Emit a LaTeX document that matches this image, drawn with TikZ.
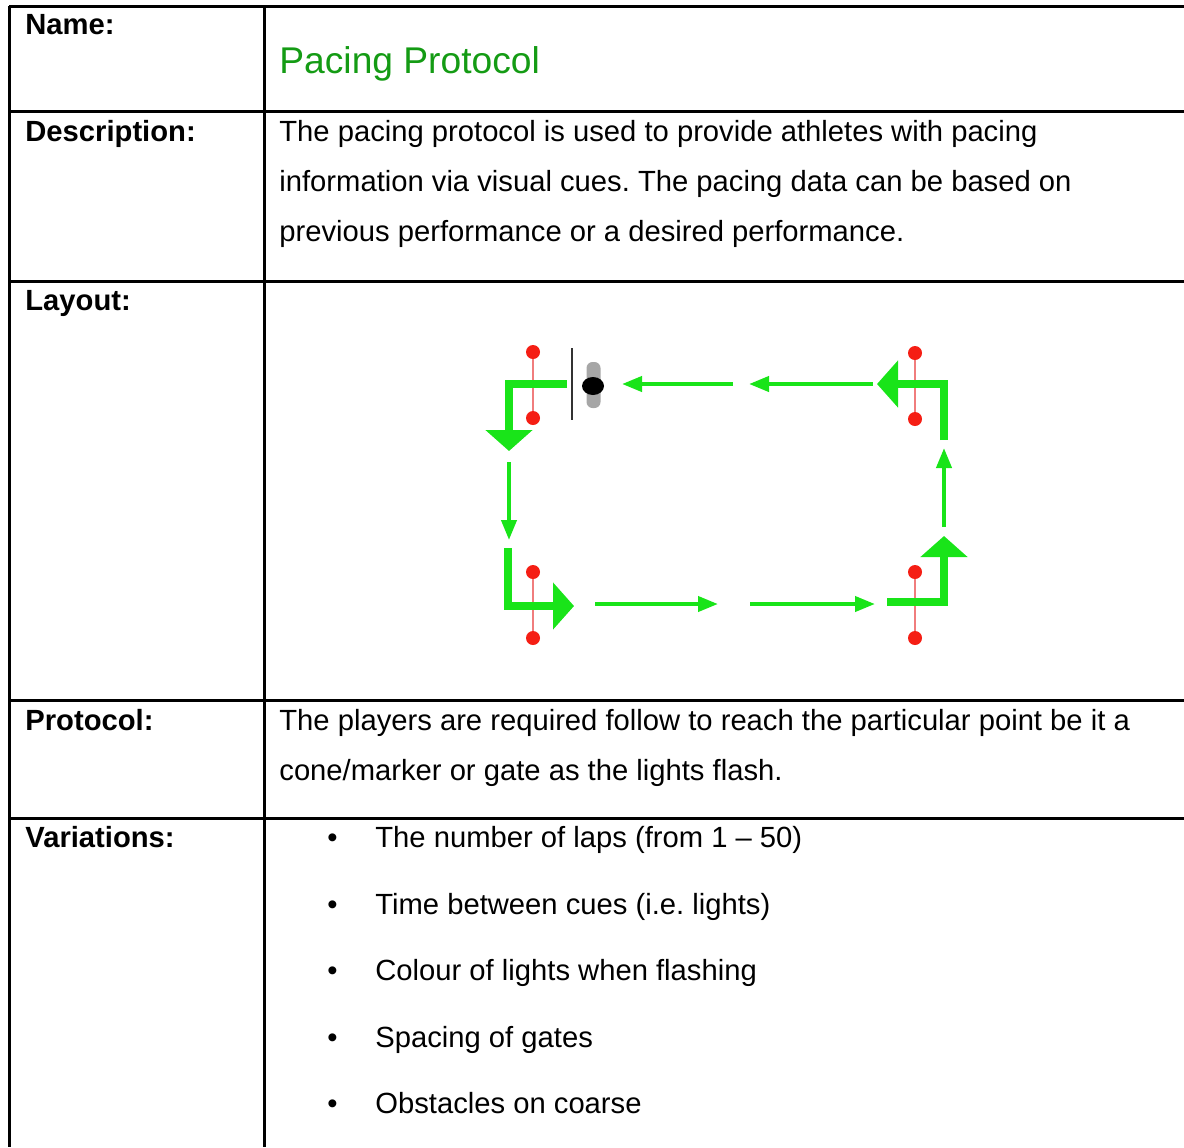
\documentclass[tikz,border=0pt]{standalone}
\usepackage{fontspec}
\setmainfont{Liberation Sans}
\usepackage{xcolor}
\usetikzlibrary{arrows.meta,shapes.geometric}
\definecolor{titleGreen}{RGB}{20,155,20}
\definecolor{cueGreen}{RGB}{25,228,25}
\definecolor{gateRed}{RGB}{245,30,20}
\definecolor{poleRed}{RGB}{240,125,125}
\newcommand{\bodyfont}{\fontsize{14.6pt}{25pt}\selectfont}
\frenchspacing

\begin{document}
\begin{tikzpicture}[x=0.5pt, y=-0.5pt,
  rule/.style={line width=1.5pt, black},
  lbl/.style={anchor=base west, inner sep=0pt, font=\bodyfont\bfseries},
  txt/.style={anchor=base west, inner sep=0pt, font=\bodyfont},
  dot/.style={circle, fill=gateRed, inner sep=0pt, minimum size=7pt},
  pole/.style={poleRed, line width=1.1pt},
  cue/.style={cueGreen, line width=2pt, -{Triangle[length=10pt, width=7.5pt]}},
  turn/.style={cueGreen, line width=4pt, -{Triangle[length=10.5pt, width=23pt]}}]
\useasboundingbox (0,0) rectangle (1184,1147);
% table rules
\draw[rule] (9,6) -- (1184,6);
\draw[rule] (9,111) -- (1184,111);
\draw[rule] (9,281) -- (1184,281);
\draw[rule] (9,700) -- (1184,700);
\draw[rule] (9,818) -- (1184,818);
\draw[rule] (9,6) -- (9,1147);
\draw[rule] (264,6) -- (264,1147);

% left column
\node[lbl] (lname) at (25,34) {Name:};
\node[lbl] (ldesc) at (25,141) {Description:};
\node[lbl] (llay) at (25,310) {Layout:};
\node[lbl] (lprot) at (25,730) {Protocol:};
\node[lbl] (lvar) at (25,847) {Variations:};

% right column
\node[anchor=base west, inner sep=0pt, font=\fontsize{18.6pt}{22pt}\selectfont, text=titleGreen] (title) at (279,73) {Pacing Protocol};
\node[txt] (desc1) at (279,141) {The pacing protocol is used to provide athletes with pacing};
\node[txt] (desc2) at (279,191) {information via visual cues. The pacing data can be based on};
\node[txt] (desc3) at (279,241) {previous performance or a desired performance.};
\node[txt] (prot1) at (279,730) {The players are required follow to reach the particular point be it a};
\node[txt] (prot2) at (279,780) {cone/marker or gate as the lights flash.};
\foreach \vy/\vt [count=\i] in {847/{The number of laps (from 1 -- 50)}, 914/{Time between cues (i.e. lights)}, 980/{Colour of lights when flashing}, 1047/{Spacing of gates}, 1113/{Obstacles on coarse}} {
  \node[txt] (bul\i) at (327,\vy) {\textbullet};
  \node[txt] (var\i) at (375,\vy) {\vt};
}

% layout: gates
\foreach \gx/\gy/\gn in {533/385/gA, 915/386/gB, 533/605/gC, 915/605/gD} {
  \node[dot] (\gn-top) at (\gx,\gy-33) {};
  \node[dot] (\gn-bot) at (\gx,\gy+33) {};
  \draw[pole] (\gn-top) -- (\gn-bot);
}

% layout: green cues
\coordinate (tA1) at (733,384); \coordinate (hA1) at (622,384);
\coordinate (tA2) at (873,384); \coordinate (hA2) at (749,384);
\coordinate (tB1) at (509,462); \coordinate (hB1) at (509,540);
\coordinate (tC1) at (595,604); \coordinate (hC1) at (718,604);
\coordinate (tC2) at (750,604); \coordinate (hC2) at (875,604);
\coordinate (tD1) at (944,527); \coordinate (hD1) at (944,448);
\foreach \s/\e in {tA1/hA1, tA2/hA2, tB1/hB1, tC1/hC1, tC2/hC2, tD1/hD1}
  \draw[cue] (\s) -- (\e);
\draw[turn] (567,384) -| (509,451);
\draw[turn] (944,440) |- (877,384);
\draw[turn] (887,602) -| (944,536);
\draw[turn] (508,548) |- (574,606);

% layout: start line and player
\coordinate (startT) at (572,348);
\coordinate (startB) at (572,420);
\draw[black!80, line width=1pt] (startT) -- (startB);
\node[fill=black!35, rounded corners=3pt, inner sep=0pt, minimum width=7pt, minimum height=23pt] (band) at (593.5,385) {};
\node[ellipse, fill=black, inner sep=0pt, minimum width=11pt, minimum height=9pt] (player) at (593,386) {};
\end{tikzpicture}
\end{document}
